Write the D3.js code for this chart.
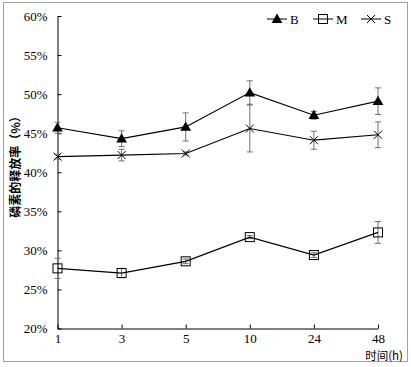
<!DOCTYPE html>
<html><head><meta charset="utf-8">
<script src="https://cdn.jsdelivr.net/npm/d3@7"></script>
<style>body{margin:0;background:#fff}</style>
</head><body>
<svg id="c" width="411" height="367"></svg>
<script>
const categories = ["1","3","5","10","24","48"];
const seriesNames = ["B","M","S"];
const valuesB = [45.7, 44.3, 45.8, 50.2, 47.3, 49.1];
const errorsB = [0.7, 1.0, 1.8, 1.5, 0.5, 1.7];
const valuesM = [27.7, 27.1, 28.6, 31.7, 29.4, 32.3];
const errorsM = [1.3, 0.6, 0.3, 0.2, 0.3, 1.4];
const valuesS = [42.0, 42.2, 42.4, 45.6, 44.1, 44.8];
const errorsS = [0.3, 0.75, 0.2, 3.0, 1.15, 1.65];
const yTicks = [20, 25, 30, 35, 40, 45, 50, 55, 60];

const svg = d3.select("#c");
svg.append("rect").attr("x",3.5).attr("y",2.5).attr("width",404).attr("height",359)
  .attr("fill","#fff").attr("stroke","#a0a0a0").attr("stroke-width",1);

const x = d3.scalePoint().domain(categories).range([57.5, 378]).padding(0);
const y = d3.scaleLinear().domain([20, 60]).range([328.5, 16]);

const serif = "'Liberation Serif','DejaVu Serif',serif";
const yAxis = d3.axisLeft(y).tickValues(yTicks).tickFormat(d => d + "%").tickSizeInner(-4).tickSizeOuter(0).tickPadding(10);
const gy = svg.append("g").attr("transform","translate(57.5,0)").call(yAxis);
const xAxis = d3.axisBottom(x).tickSizeInner(-4).tickSizeOuter(0).tickPadding(5);
const gx = svg.append("g").attr("transform","translate(0,328.5)").call(xAxis);
[gx, gy].forEach(g => {
  g.selectAll("path.domain").attr("stroke","#000").attr("stroke-width",1);
  g.selectAll(".tick line").attr("stroke","#000");
  g.selectAll("text").attr("font-family",serif).attr("font-size",13).attr("fill","#000");
});

svg.append("text").attr("x",403).attr("y",359.5).attr("text-anchor","end")
  .attr("font-family","'Noto Sans CJK SC',sans-serif").attr("font-size",11.5).text("时间(h)");
svg.append("text").attr("transform","translate(20,164) rotate(-90)").attr("text-anchor","middle")
  .attr("font-family","'Noto Sans CJK SC',sans-serif").attr("font-size",12).attr("font-weight","bold").text("磷素的释放率（%）");

const series = [
  {name:"B", v:valuesB, e:errorsB, marker:"tri"},
  {name:"M", v:valuesM, e:errorsM, marker:"sq"},
  {name:"S", v:valuesS, e:errorsS, marker:"x"}
];
const line = d3.line().x((d,i)=>x(categories[i])).y(d=>y(d));

function drawMarker(g, type, cx, cy) {
  if (type === "tri") {
    g.append("path").attr("d", d3.symbol(d3.symbolTriangle, 50)()).attr("transform",`translate(${cx},${cy+0.8})`).attr("fill","#000");
  } else if (type === "sq") {
    g.append("rect").attr("x",cx-4.5).attr("y",cy-4.5).attr("width",9).attr("height",9).attr("fill","none").attr("stroke","#000").attr("stroke-width",1);
  } else {
    g.append("path").attr("d",`M${cx-4},${cy-4}L${cx+4},${cy+4}M${cx-4},${cy+4}L${cx+4},${cy-4}`).attr("stroke","#000").attr("stroke-width",1);
  }
}

series.forEach(s => {
  const g = svg.append("g");
  s.v.forEach((v,i) => {
    const cx = x(categories[i]);
    const y1 = y(v + s.e[i]), y2 = y(v - s.e[i]);
    g.append("path").attr("d",`M${cx},${y1}V${y2}M${cx-3},${y1}H${cx+3}M${cx-3},${y2}H${cx+3}`)
      .attr("stroke","#707070").attr("stroke-width",1).attr("fill","none");
  });
  g.append("path").datum(s.v).attr("d",line).attr("fill","none").attr("stroke","#000").attr("stroke-width",1.2);
  s.v.forEach((v,i) => drawMarker(g, s.marker, x(categories[i]), y(v)));
});

// legend
const legX = [267, 313, 361];
series.forEach((s,i) => {
  const g = svg.append("g");
  const lx = legX[i], ly = 19;
  g.append("line").attr("x1",lx).attr("x2",lx+20).attr("y1",ly).attr("y2",ly).attr("stroke","#000").attr("stroke-width",1);
  drawMarker(g, s.marker, lx+10, ly);
  g.append("text").attr("x",lx+23).attr("y",ly+5).attr("font-family",serif).attr("font-size",13).text(s.name);
});
</script>
</body></html>
